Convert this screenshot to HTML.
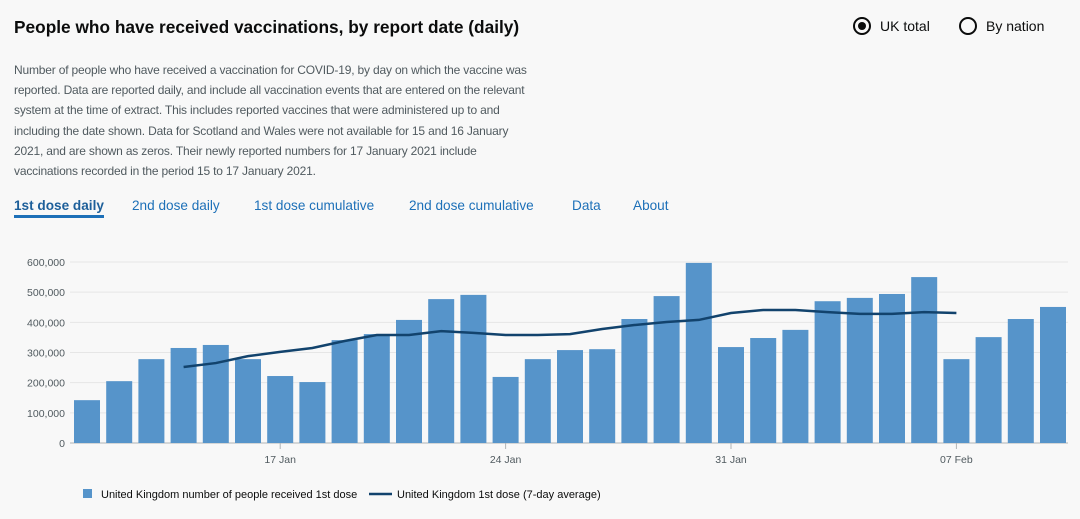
<!DOCTYPE html>
<html><head><meta charset="utf-8">
<style>
body{margin:0;width:1080px;height:519px;background:#f8f8f8;font-family:"Liberation Sans",sans-serif;overflow:hidden;position:relative;color:#0b0c0c}
.title{position:absolute;left:14px;top:17px;font-size:17.3px;font-weight:bold}
.radio{position:absolute;top:17px;font-size:14px;display:flex;align-items:center}
.radio .c{width:18px;height:18px;border:2px solid #0b0c0c;border-radius:50%;box-sizing:border-box;margin-right:9px;position:relative}
.radio .c.on::after{content:"";position:absolute;left:3px;top:3px;width:8px;height:8px;border-radius:50%;background:#0b0c0c}
.desc{position:absolute;left:14px;top:60px;white-space:nowrap;font-size:12px;letter-spacing:-0.18px;line-height:20.2px;color:#505a5f}
.tab{position:absolute;top:198px;font-size:13.6px;color:#1d70b8}
.tab.active{font-weight:bold;color:#1d5f9a;border-bottom:3px solid #1d70b8;padding-bottom:2px}
svg{position:absolute;left:0;top:0}
</style></head><body>
<div class="title">People who have received vaccinations, by report date (daily)</div>
<div class="radio" style="left:853px"><span class="c on"></span>UK total</div>
<div class="radio" style="left:959px"><span class="c"></span>By nation</div>
<div class="desc">Number of people who have received a vaccination for COVID-19, by day on which the vaccine was<br>reported. Data are reported daily, and include all vaccination events that are entered on the relevant<br>system at the time of extract. This includes reported vaccines that were administered up to and<br>including the date shown. Data for Scotland and Wales were not available for 15 and 16 January<br>2021, and are shown as zeros. Their newly reported numbers for 17 January 2021 include<br>vaccinations recorded in the period 15 to 17 January 2021.</div>
<div class="tab active" style="left:14px">1st dose daily</div>
<div class="tab" style="left:132px">2nd dose daily</div>
<div class="tab" style="left:254px">1st dose cumulative</div>
<div class="tab" style="left:409px">2nd dose cumulative</div>
<div class="tab" style="left:572px">Data</div>
<div class="tab" style="left:633px">About</div>
<svg id="chart" width="1080" height="519"></svg>
<script>
const dailyValues=[142000,205000,278000,315000,325000,278000,222000,202000,341000,361000,408000,477000,491000,219000,278000,308000,311000,411000,487000,597000,318000,348000,375000,470000,481000,494000,550000,278000,351000,411000,451000];
const avgValues=[null,null,null,252000,265000,288000,302000,315000,338000,358000,358000,371000,365000,358000,358000,361000,378000,391000,401000,408000,431000,441000,441000,434000,428000,428000,434000,431000,null,null,null];
const yTicks=[0,100000,200000,300000,400000,500000,600000];
const xTickIdx=[6,13,20,27];
const xTickLabels=["17 Jan","24 Jan","31 Jan","07 Feb"];
const NS="http://www.w3.org/2000/svg";
const svg=document.getElementById('chart');
const x=i=>87+i*32.2;
const y=v=>443-v*181/600000;
function mk(t,a){const e=document.createElementNS(NS,t);for(const k in a)e.setAttribute(k,a[k]);svg.appendChild(e);return e;}
yTicks.forEach(v=>{
 const g=mk('line',{x1:70,x2:1068,y1:y(v),y2:y(v),stroke:v?'#e6e6e6':'#b1b4b6','stroke-width':1});
 
 
 const t=mk('text',{x:65,y:y(v)+4,'text-anchor':'end','font-size':10.5,fill:'#505a5f'});
 t.textContent=v.toLocaleString('en-GB');
 
 
});
dailyValues.forEach((v,i)=>{
 const r=mk('rect',{x:x(i)-13,y:y(v),width:26,height:443-y(v),fill:'#5694ca'});
 
 
});
let d='';
avgValues.forEach((v,i)=>{if(v!=null)d+=(d?'L':'M')+x(i)+','+y(v);});
const p=mk('path',{d:d,fill:'none',stroke:'#12436d','stroke-width':2.5});


xTickIdx.forEach((i,k)=>{
 const l=mk('line',{x1:x(i),x2:x(i),y1:443,y2:449,stroke:'#b1b4b6'});
 
 
 const t=mk('text',{x:x(i),y:463,'text-anchor':'middle','font-size':10.5,fill:'#505a5f'});
 t.textContent=xTickLabels[k];
 
 
});
const ls=mk('rect',{x:83,y:489,width:9,height:9,fill:'#5694ca'});


const lt=mk('text',{x:101,y:498,'font-size':11,fill:'#0b0c0c'});
lt.textContent='United Kingdom number of people received 1st dose';


const ll=mk('line',{x1:369,x2:392,y1:494,y2:494,stroke:'#12436d','stroke-width':2.5});


const lt2=mk('text',{x:397,y:498,'font-size':11,fill:'#0b0c0c'});
lt2.textContent='United Kingdom 1st dose (7-day average)';


</script>
</body></html>
